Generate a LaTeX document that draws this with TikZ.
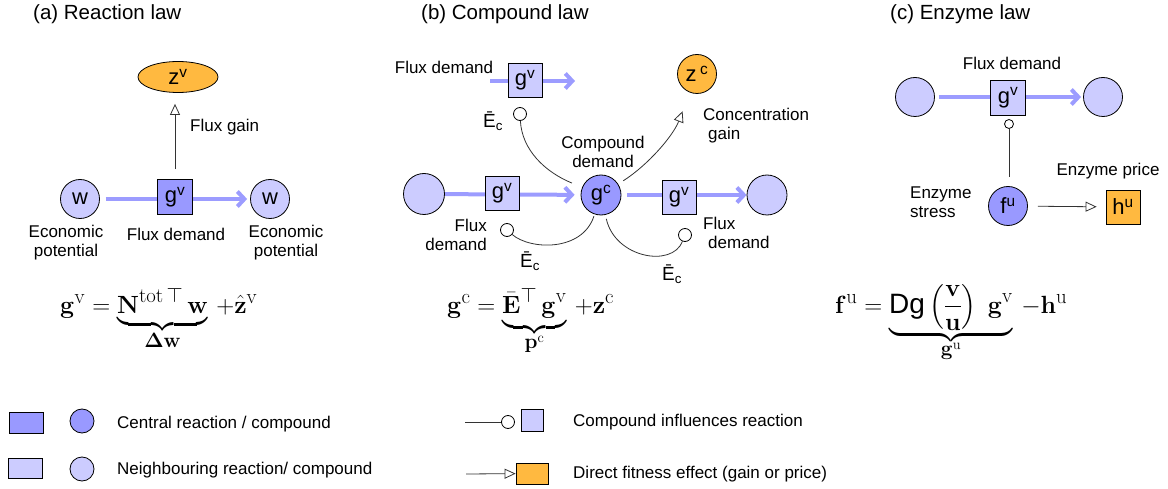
\documentclass[tikz,border=0pt]{standalone}
\usepackage{amsmath}
\usepackage[no-math]{fontspec}
\setmainfont{Liberation Sans}
\usetikzlibrary{arrows.meta,shapes.geometric,calc}
\definecolor{central}{HTML}{9999FF}
\definecolor{neigh}{HTML}{CCCCFF}
\definecolor{gaincol}{HTML}{FFB940}
\definecolor{flowcol}{HTML}{9C9CFF}
\definecolor{ink}{HTML}{333333}
\pgfdeclarelayer{bg}
\pgfsetlayers{bg,main}
\tikzset{
  lbl/.style={font=\fontsize{17}{19}\selectfont, inner sep=0pt, align=center},
  lbll/.style={font=\fontsize{17}{19}\selectfont, inner sep=0pt, align=left},
  lblr/.style={font=\fontsize{17}{19}\selectfont, inner sep=0pt, align=right},
  ebar/.style={font=\fontsize{19}{21}\selectfont, inner sep=0pt, anchor=west},
  ttl/.style={font=\fontsize{20.5}{24}\selectfont, inner sep=0pt, anchor=west},
  var/.style={font=\fontsize{22}{24}\selectfont, inner sep=0pt, draw=black, line width=0.8pt},
  cbox/.style={var, fill=central, minimum size=35pt},
  nbox/.style={var, fill=neigh, minimum size=35pt},
  ccirc/.style={var, circle, fill=central, minimum size=40pt},
  ncirc/.style={var, circle, fill=neigh, minimum size=39pt},
  gcirc/.style={var, circle, fill=gaincol, minimum size=39pt},
  gbox/.style={var, fill=gaincol, minimum size=34pt},
  gell/.style={var, ellipse, fill=gaincol, minimum width=80pt, minimum height=31pt},
  infl/.style={circle, draw=black, line width=0.8pt, fill=white, inner sep=0pt, minimum size=13pt},
  inflsmall/.style={infl, minimum size=9pt},
  flow/.style={draw=flowcol, line width=4pt, -{Straight Barb[length=7pt,width=15pt]}},
  link/.style={draw=ink, line width=0.8pt},
  fit/.style={draw=ink, line width=0.8pt, -{Triangle[open,length=11pt,width=10pt,fill=white]}},
  eqn/.style={font=\fontsize{28}{32}\selectfont, inner sep=0pt, anchor=base west},
  lgtxt/.style={font=\fontsize{17}{19}\selectfont, inner sep=0pt, anchor=west},
}
\begin{document}
\begin{tikzpicture}[x=1pt,y=-1pt]
\useasboundingbox (0,0) rectangle (1168,489);
% titles
\node[ttl] (ta) at (33,14) {(a) Reaction law};
\node[ttl] (tb) at (421,14) {(b) Compound law};
\node[ttl] (tc) at (890,14) {(c) Enzyme law};

% ---------- (a) ----------
\node[gell] (zv) at (178,77) {z\textsuperscript{v}};
\node[ncirc] (w1) at (80,199) {w};
\node[cbox] (gva) at (175,197) {g\textsuperscript{v}};
\node[ncirc] (w2) at (270,199) {w};
\begin{pgfonlayer}{bg}
\draw[flow, shorten <=6pt, shorten >=3pt] (w1) -- (w2);
\end{pgfonlayer}
\draw[fit, shorten <=10pt, shorten >=11pt] (gva) -- (gva |- zv.south);
\node[lbll, anchor=west] (lfg) at (190,127) {Flux gain};
\node[lbl] (lep1) at (66,243) {Economic\\potential};
\node[lbl] (lfd) at (176,234) {Flux demand};
\node[lbl] (lep2) at (286,243) {Economic\\potential};
\node[eqn] (eqa) at (60,313) {$\mathbf{g}^{\mathrm{v}} = \underbrace{\mathbf{N}^{\mathrm{tot}\,\top}\,\mathbf{w}\rule[-7pt]{0pt}{1pt}}_{\mathbf{\Delta w}}\,{+}\hat{\mathbf{z}}^{\mathrm{v}}$};

% ---------- (b) ----------
\node[lbl] (lfdt) at (444,67) {Flux demand};
\node[nbox, minimum size=34pt] (gvt) at (525,80) {g\textsuperscript{v}};
\coordinate (ft1) at (490,81);
\coordinate (ft2) at (575,81);
\node[gcirc] (zc) at (697,74) {z\,\textsuperscript{c}};
\node[lbll, anchor=west] (lcg) at (703,126) {Concentration\\\hspace*{5pt}gain};
\node[lbl] (lcd) at (603,152) {Compound\\demand};
\node[ccirc] (gc) at (601,195) {g\textsuperscript{c}};
\node[ncirc, minimum size=41pt] (nl) at (424,194) {};
\node[nbox, minimum size=34pt] (gvl) at (502,193) {g\textsuperscript{v}};
\node[nbox, minimum size=34pt] (gvr) at (679,197) {g\textsuperscript{v}};
\node[ncirc, minimum size=40pt] (nr) at (767,195) {};
\node[infl] (e1) at (520,114) {};
\node[infl] (e2) at (507,230) {};
\node[infl] (e3) at (685,235) {};
\begin{pgfonlayer}{bg}
\draw[flow] (ft1) -- (ft2);
\draw[flow, shorten >=6pt] (nl) -- (gc);
\draw[flow, shorten <=6pt] (gc) -- (nr);
\end{pgfonlayer}
\draw[link, shorten >=11pt] (e1) .. controls (522,150) and (545,172) .. (gc);
\draw[link, shorten >=2pt] (e2) .. controls (530,250) and (582,252) .. (gc);
\draw[link, shorten <=4pt] (gc) .. controls (615,258) and (672,268) .. (e3);
\draw[fit, shorten <=6pt, shorten >=20pt] (gc) .. controls (648,165) and (673,136) .. (zc);
\node[ebar] (ebt) at (483,121) {Ē\textsubscript{c}};
\node[lblr, anchor=east] (lfdl) at (487,235) {Flux\\demand};
\node[ebar] (ebl) at (520,261) {Ē\textsubscript{c}};
\node[lbll, anchor=west] (lfdr) at (703,233) {Flux\\\hspace*{5pt}demand};
\node[ebar] (ebr) at (662,274) {Ē\textsubscript{c}};
\node[eqn] (eqb) at (447,313) {$\mathbf{g}^{\mathrm{c}} = \underbrace{\bar{\mathbf{E}}^{\top}\,\mathbf{g}^{\mathrm{v}}\rule[-10pt]{0pt}{1pt}}_{\mathbf{p}^{\mathrm{c}}}\,{+}\mathbf{z}^{\mathrm{c}}$};

% ---------- (c) ----------
\node[lbl] (lfdc) at (1012,63) {Flux demand};
\node[ncirc] (cl) at (915,97) {};
\node[nbox] (gvc) at (1008,97.5) {g\textsuperscript{v}};
\node[ncirc] (cr) at (1103,97) {};
\node[inflsmall] (e4) at (1009,124) {};
\node[ccirc, minimum size=39pt] (fu) at (1008,206) {f\textsuperscript{u}};
\node[gbox] (hu) at (1123,207) {h\textsuperscript{u}};
\begin{pgfonlayer}{bg}
\draw[flow, shorten <=4pt, shorten >=2pt] (cl) -- (cr);
\end{pgfonlayer}
\draw[link, shorten >=9pt] (e4) -- (e4 |- fu.north);
\draw[fit, shorten <=10pt, shorten >=9pt] (fu) -- (hu);
\node[lbll, anchor=west] (les) at (910,202) {Enzyme\\stress};
\node[lbl] (lep) at (1108,171) {Enzyme price};
\node[eqn] (eqc) at (835,313) {$\mathbf{f}^{\mathrm{u}} = \underbrace{\mbox{Dg}\left(\dfrac{\mathbf{v}}{\mathbf{u}}\right)\;\mathbf{g}^{\mathrm{v}}}_{\mathbf{g}^{\mathrm{u}}}\,{-}\mathbf{h}^{\mathrm{u}}$};

% ---------- legend ----------
\node[var, fill=central, minimum width=34pt, minimum height=21pt] (lb1) at (26,422.5) {};
\node[var, circle, fill=central, minimum size=24pt] (lc1) at (82,421) {};
\node[lgtxt] (lt1) at (117,424) {Central reaction / compound};
\node[var, fill=neigh, minimum width=34pt, minimum height=20pt] (lb2) at (25,468) {};
\node[var, circle, fill=neigh, minimum size=24pt] (lc2) at (82,469) {};
\node[lgtxt] (lt2) at (117,470) {Neighbouring reaction/ compound};
\coordinate (ls1) at (465,422);
\node[infl] (lic) at (508,422) {};
\node[var, fill=neigh, minimum width=22pt, minimum height=22pt] (lb3) at (532,420) {};
\draw[link] (ls1) -- (lic);
\node[lgtxt] (lt3) at (573,422) {Compound influences reaction};
\coordinate (ls2) at (466,474);
\node[var, fill=gaincol, minimum width=32pt, minimum height=21pt] (lb4) at (532,473.5) {};
\draw[fit] (ls2) -- (lb4);
\node[lgtxt] (lt4) at (573,474) {Direct fitness effect (gain or price)};
\end{tikzpicture}
\end{document}
